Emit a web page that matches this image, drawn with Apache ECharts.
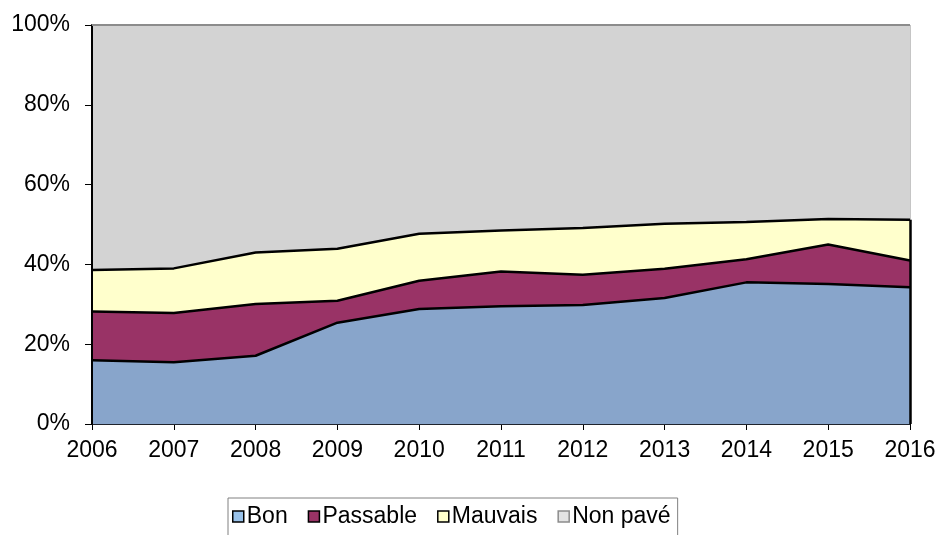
<!DOCTYPE html>
<html>
<head>
<meta charset="utf-8">
<script src="https://cdn.jsdelivr.net/npm/echarts@6/dist/echarts.min.js"></script>
<style>
  html, body { margin: 0; padding: 0; background: #fff; }
  #chart { width: 939px; height: 535px; }
</style>
</head>
<body>
<div id="chart"></div>
<script>
// Road network condition, share of total (%)
const years = ['2006', '2007', '2008', '2009', '2010', '2011', '2012', '2013', '2014', '2015', '2016']
const bon = [16.0, 15.5, 17.1, 25.4, 28.8, 29.5, 29.8, 31.6, 35.5, 35.1, 34.3]
const passable = [12.2, 12.3, 13.0, 5.5, 7.1, 8.7, 7.6, 7.3, 5.8, 9.9, 6.7]
const mauvais = [10.4, 11.2, 12.9, 13.0, 11.8, 10.3, 11.7, 11.3, 9.3, 6.4, 10.2]
const nonPave = [61.4, 61.0, 57.0, 56.1, 52.3, 51.5, 50.9, 49.8, 49.4, 48.6, 48.8]
const yTicks = [0, 20, 40, 60, 80, 100]

const font = 'Liberation Sans, Arial, sans-serif'
const last = years.length - 1
const pavedTop = bon[last] + passable[last] + mauvais[last]

const chart = echarts.init(document.getElementById('chart'))

const area = (name, data, fill, edge, extra) => ({
  name,
  type: 'line',
  stack: 'total',
  data,
  symbol: 'none',
  smooth: false,
  lineStyle: { color: edge, width: 2.5 },
  areaStyle: { color: fill, opacity: 1 },
  itemStyle: { color: fill },
  emphasis: { disabled: true },
  ...extra
})

chart.setOption({
  animation: false,
  textStyle: { fontFamily: font },
  grid: { left: 92, right: 29, top: 25, bottom: 111, show: true, borderColor: '#8c8c8c', borderWidth: 1 },
  legend: {
    left: 228,
    top: 498,
    padding: [7, 7, 10, 4],
    borderColor: '#808080',
    borderWidth: 1,
    itemWidth: 11,
    itemHeight: 11,
    itemGap: 20,
    icon: 'rect',
    textStyle: { fontSize: 23, color: '#000', fontFamily: font, padding: [0, 0, 0, -2] },
    data: [
      { name: 'Bon', itemStyle: { color: '#99c2ea', borderColor: '#000', borderWidth: 1.5 } },
      { name: 'Passable', itemStyle: { color: '#993366', borderColor: '#000', borderWidth: 1.5 } },
      { name: 'Mauvais', itemStyle: { color: '#ffffcc', borderColor: '#000', borderWidth: 1.5 } },
      { name: 'Non pavé', itemStyle: { color: '#e3e3e3', borderColor: '#8c8c8c', borderWidth: 1.5 } }
    ]
  },
  xAxis: {
    type: 'category',
    data: years,
    boundaryGap: false,
    axisLine: { lineStyle: { color: '#000', width: 2 } },
    axisTick: { show: true, length: 6, lineStyle: { color: '#000' } },
    axisLabel: { color: '#000', fontSize: 23, margin: 15 },
    splitLine: { show: false }
  },
  yAxis: {
    type: 'value',
    min: 0,
    max: 100,
    interval: 20,
    z: 3,
    axisLine: { show: true, lineStyle: { color: '#000', width: 2 } },
    axisTick: { show: true, length: 7, lineStyle: { color: '#000' } },
    axisLabel: {
      color: '#000',
      fontSize: 23,
      margin: 22,
      formatter: v => (yTicks.includes(v) ? v + '%' : '')
    },
    splitLine: { show: true, lineStyle: { color: 'rgba(70,80,100,0.45)', width: 1 } }
  },
  series: [
    area('Bon', bon, '#88a5cb', '#000', {
      markLine: {
        silent: true,
        symbol: 'none',
        label: { show: false },
        lineStyle: { color: '#000', width: 2.5, type: 'solid' },
        data: [[{ coord: [years[last], 0] }, { coord: [years[last], pavedTop] }]]
      }
    }),
    area('Passable', passable, '#993366', '#000'),
    area('Mauvais', mauvais, '#ffffcc', '#000'),
    area('Non pavé', nonPave, '#d3d3d3', '#8c8c8c', { lineStyle: { color: '#8c8c8c', width: 2 } })
  ]
})
</script>
</body>
</html>
